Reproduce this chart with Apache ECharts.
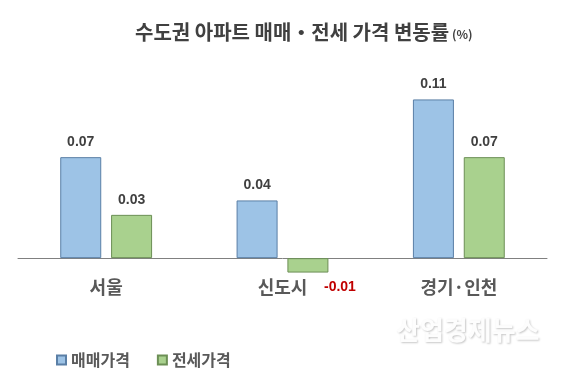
<!DOCTYPE html>
<html>
<head>
<meta charset="utf-8">
<script src="https://cdn.jsdelivr.net/npm/echarts@6/dist/echarts.min.js"></script>
<style>
html,body{margin:0;padding:0;background:#fff;}
#c{width:582px;height:387px;}
</style>
</head>
<body>
<div id="c"></div>
<script>
const categories = ['서울', '신도시', '경기·인천'];
const seriesNames = ['매매가격', '전세가격'];
const saleValues = [0.07, 0.04, 0.11];
const jeonseValues = [0.03, -0.01, 0.07];

const KR = '"Noto Sans CJK KR", "Noto Sans", sans-serif';
const NUM = '"Liberation Sans", Arial, sans-serif';

function buildData(values) {
  return values.map(v => v < 0 ? {
    value: v,
    label: { position: 'bottom', color: '#C00000', offset: [32, 0] }
  } : v);
}

const chart = echarts.init(document.getElementById('c'), null, { renderer: 'canvas' });
chart.setOption({
  animation: false,
  backgroundColor: '#ffffff',
  title: {
    text: '{a|수도권 아파트 매매・전세 가격 변동률}{b| (%)}',
    left: 130,
    top: 17,
    textStyle: {
      rich: {
        a: { fontFamily: KR, fontSize: 20, fontWeight: 'bold', color: '#404040' },
        b: { fontFamily: KR, fontSize: 12, color: '#404040', padding: [5, 0, 0, 0] }
      }
    }
  },
  legend: {
    left: 51,
    top: 347,
    itemWidth: 9,
    itemHeight: 9,
    itemGap: 27,
    icon: 'rect',
    textStyle: { fontFamily: KR, fontSize: 16, fontWeight: 'bold', color: '#595959' },
    data: seriesNames
  },
  grid: { left: 18, right: 35, top: 85, bottom: 100 },
  xAxis: {
    type: 'category',
    data: categories,
    axisLine: { onZero: true, lineStyle: { color: '#808080', width: 1 } },
    axisTick: { show: false },
    axisLabel: { margin: -9, fontFamily: KR, fontSize: 18, fontWeight: 'bold', color: '#595959' }
  },
  yAxis: {
    type: 'value',
    min: -0.02,
    max: 0.12,
    show: false,
    splitLine: { show: false }
  },
  series: [
    {
      name: seriesNames[0],
      type: 'bar',
      barWidth: 41,
      barGap: '24%',
      data: buildData(saleValues),
      itemStyle: { color: '#9DC3E6', borderColor: '#5A7FA6', borderWidth: 1 },
      label: { show: true, position: 'top', distance: 8, fontFamily: NUM, fontSize: 14, fontWeight: 'bold', color: '#404040' }
    },
    {
      name: seriesNames[1],
      type: 'bar',
      barWidth: 41,
      barGap: '24%',
      data: buildData(jeonseValues),
      itemStyle: { color: '#A9D18E', borderColor: '#6C8F55', borderWidth: 1 },
      label: { show: true, position: 'top', distance: 8, fontFamily: NUM, fontSize: 14, fontWeight: 'bold', color: '#404040' }
    }
  ],
  graphic: [
    {
      type: 'text',
      left: 396,
      top: 317,
      z: -1,
      style: {
        text: '산업경제뉴스',
        fontFamily: KR,
        fontSize: 26,
        fontWeight: 'bold',
        fill: '#fdfdfd',
        textShadowColor: 'rgba(0,0,0,0.22)',
        textShadowBlur: 2,
        textShadowOffsetX: 1,
        textShadowOffsetY: 1
      }
    }
  ]
});
</script>
</body>
</html>
